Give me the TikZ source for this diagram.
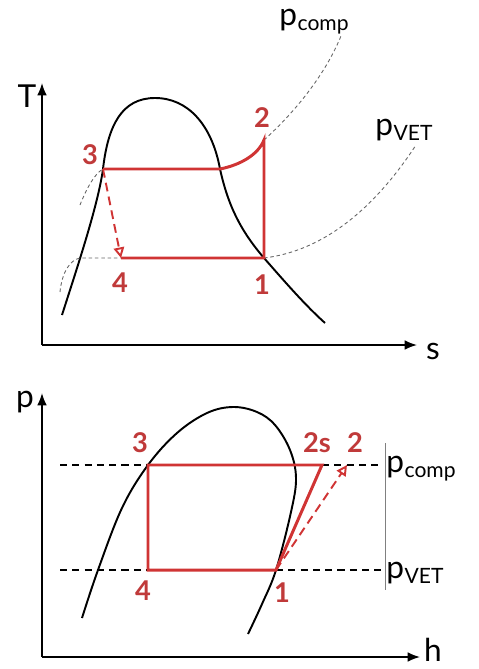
\documentclass[tikz,border=0pt]{standalone}
\usepackage{fontspec}
\setmainfont{Lato}
\usetikzlibrary{arrows.meta}

\definecolor{cyc}{RGB}{208,52,52}
\definecolor{cyclbl}{RGB}{192,58,58}
\newcommand{\pres}[1]{p\kern0.3pt\raisebox{-3pt}{\fontsize{12}{12}\selectfont #1}}

\begin{document}
\begin{tikzpicture}[x=0.02cm, y=-0.02cm,
    axis/.style={-{Latex[length=7pt,width=5.5pt]}, line width=0.9pt},
    dome/.style={line width=1.1pt},
    cycline/.style={draw=cyc, line width=1.7pt},
    isobar/.style={draw=gray!80!black, line width=0.5pt, dash pattern=on 2pt off 1.6pt},
    level/.style={draw=black, line width=0.8pt, dash pattern=on 4pt off 3pt},
    throttle/.style={draw=cyc, line width=1.1pt, dash pattern=on 5pt off 3pt,
        -{Triangle[open,length=6pt,width=6pt]}},
    num/.style={text=cyclbl, font=\fontsize{15.5}{15.5}\selectfont\bfseries, inner sep=0pt},
    axlbl/.style={font=\fontsize{18}{18}\selectfont, inner sep=0pt},
    plbl/.style={font=\fontsize{18}{18}\selectfont, inner sep=0pt, anchor=west}
  ]
  \useasboundingbox (0,0) rectangle (478,669);

  % T-s diagram
  \coordinate (tsO) at (42,345);
  \coordinate (tsT) at (42,83);
  \coordinate (tsS) at (417,345);
  \draw[axis] (tsO) -- (tsT);
  \draw[axis] (tsO) -- (tsS);
  \node[axlbl] (labT) at (27,96) {T};
  \node[axlbl, anchor=base] (labs) at (433,359) {s};

  \coordinate (ts3) at (103,169);
  \coordinate (ts4) at (121,258);
  \coordinate (ts1) at (264,258);
  \coordinate (ts2) at (264,140);
  \coordinate (tsx) at (220,169);
  \coordinate (tsa) at (80,258);

  \draw[dome] (62,315) .. controls (78,265) and (98,205) .. (ts3)
    .. controls (108,125) and (122,98) .. (155,98)
    .. controls (188,98) and (212,125) .. (tsx)
    .. controls (228,205) and (240,230) .. (ts1)
    .. controls (285,282) and (305,305) .. (325,323);

  % isobars
  \draw[isobar] (80,205) .. controls (86,190) and (94,174) .. (ts3);
  \draw[isobar] (ts2) .. controls (295,112) and (325,75) .. (341,36);
  \draw[isobar] (60,292) .. controls (62,272) and (70,260) .. (tsa) -- (ts4);
  \draw[isobar] (ts1) .. controls (330,250) and (380,200) .. (416,145);

  % cycle
  \draw[cycline] (ts3) -- (tsx) .. controls (240,165) and (258,155) .. (ts2) -- (ts1) -- (ts4);
  \draw[throttle] (ts3) -- (ts4);

  \node[num] (n3t) at (90,155) {3};
  \node[num] (n2t) at (262,118) {2};
  \node[num] (n4t) at (120,283) {4};
  \node[num] (n1t) at (262,285) {1};
  \node[plbl] (pct) at (279,22) {\pres{comp}};
  \node[plbl] (pvt) at (375,130) {\pres{VET}};

  % p-h diagram
  \coordinate (phO) at (42,657);
  \coordinate (phP) at (42,393);
  \coordinate (phH) at (420,657);
  \draw[axis] (phO) -- (phP);
  \draw[axis] (phO) -- (phH);
  \node[axlbl] (labp) at (25,402) {p};
  \node[axlbl, anchor=base] (labh) at (433,661) {h};

  \draw[dome] plot[smooth, tension=0.6] coordinates {
    (82,618) (98,570) (122,508) (148,465) (177,433) (207,413) (233,407)
    (257,412) (275,425) (290,450) (296,478) (291,512) (276,570) (262,604) (248,634)};

  \coordinate (ph3) at (148,465);
  \coordinate (ph4) at (148,570);
  \coordinate (ph1) at (276,570);
  \coordinate (ph2s) at (322,465);
  \coordinate (ph2) at (347,465);
  \coordinate (hiL) at (60,465);
  \coordinate (hiR) at (383,465);
  \coordinate (loL) at (60,570);
  \coordinate (loR) at (383,570);
  \coordinate (barT) at (385,443);
  \coordinate (barB) at (385,590);

  \draw[level] (hiL) -- (ph3);
  \draw[level] (ph2s) -- (hiR);
  \draw[level] (loL) -- (ph4);
  \draw[level] (ph1) -- (loR);
  \draw[gray, line width=0.5pt] (barT) -- (barB);

  \draw[cycline] (ph1) -- (ph4) -- (ph3) -- (ph2s) -- cycle;
  \draw[throttle] (ph1) -- (ph2);

  \node[num] (n3p) at (140,443) {3};
  \node[num] (n2sp) at (317,443) {2s};
  \node[num] (n2p) at (355,443) {2};
  \node[num] (n4p) at (143,591) {4};
  \node[num] (n1p) at (282,593) {1};
  \node[plbl] (pcp) at (386,469) {\pres{comp}};
  \node[plbl] (pvp) at (386,573) {\pres{VET}};
\end{tikzpicture}
\end{document}
